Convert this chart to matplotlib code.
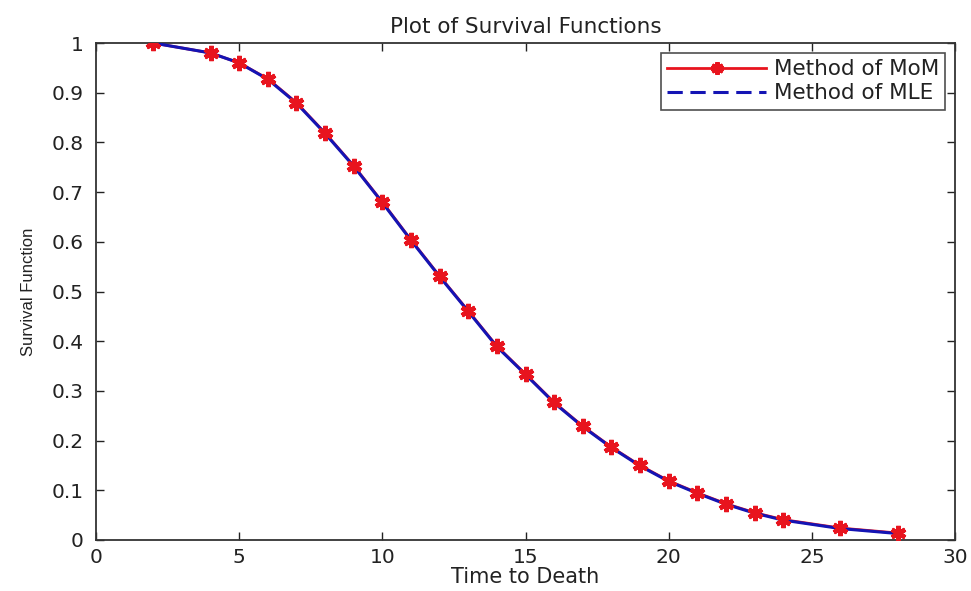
import matplotlib
matplotlib.use("Agg")
import matplotlib.pyplot as plt
from matplotlib.lines import Line2D

time_to_death = [2, 4, 5, 6, 7, 8, 9, 10, 11, 12, 13, 14, 15, 16, 17, 18, 19, 20, 21, 22, 23, 24, 26, 28]
survival_mom = [1.0, 0.98, 0.96, 0.928, 0.88, 0.819, 0.753, 0.68, 0.604, 0.531, 0.461, 0.39,
                0.334, 0.277, 0.229, 0.187, 0.150, 0.119, 0.095, 0.073, 0.055, 0.041, 0.024, 0.014]
survival_mle = [1.0, 0.98, 0.96, 0.927, 0.879, 0.818, 0.752, 0.679, 0.603, 0.530, 0.460, 0.389,
                0.333, 0.276, 0.228, 0.186, 0.149, 0.118, 0.094, 0.072, 0.054, 0.040, 0.023, 0.013]
x_ticks = [0, 5, 10, 15, 20, 25, 30]
y_ticks = [0, 0.1, 0.2, 0.3, 0.4, 0.5, 0.6, 0.7, 0.8, 0.9, 1]
y_ticklabels = ["0", "0.1", "0.2", "0.3", "0.4", "0.5", "0.6", "0.7", "0.8", "0.9", "1"]

plt.rcParams['font.family'] = ['DejaVu Sans']

RED = '#e8141e'
BLUE = '#1414b4'
INK = '#222222'

fig = plt.figure(figsize=(9.71, 5.91), dpi=100)
ax = fig.add_axes([0.0989, 0.0863, 0.8846, 0.8409])

ax.plot(time_to_death, survival_mom, color=RED, linewidth=2, zorder=2)
ax.plot(time_to_death, survival_mle, color=BLUE, linewidth=2.2, zorder=3)
ax.plot(time_to_death, survival_mom, linestyle='none', marker=(6, 2, 0), markersize=11,
        markeredgewidth=3.2, color=RED, markeredgecolor=RED, zorder=4)

ax.set_xlim(0, 30)
ax.set_ylim(0, 1)
ax.set_xticks(x_ticks)
ax.set_xticklabels([str(t) for t in x_ticks])
ax.set_yticks(y_ticks)
ax.set_yticklabels(y_ticklabels)
ax.tick_params(direction='in', top=True, right=True, length=6, labelsize=14.5,
               width=1, colors=INK, labelcolor=INK)
ax.tick_params(axis='y', pad=9)
ax.tick_params(axis='x', pad=6)
for s in ax.spines.values():
    s.set_linewidth(1.3)
    s.set_color('#333333')

ax.set_title("Plot of Survival Functions", fontsize=15.5, pad=7, color=INK)
ax.set_xlabel("Time to Death", fontsize=15, labelpad=0, color=INK)
ax.set_ylabel("Survival Function", fontsize=12, labelpad=11, color=INK,
              family=['Liberation Sans Narrow', 'Liberation Sans', 'DejaVu Sans'])

handles = [
    Line2D([], [], color=RED, linewidth=2, marker=(6, 2, 0), markersize=9,
           markeredgewidth=3, markeredgecolor=RED),
    Line2D([], [], color=BLUE, linewidth=2.2, linestyle=(0, (5, 2.5))),
]
leg = ax.legend(handles, ["Method of MoM", "Method of MLE"], loc='upper right',
                fontsize=15.5, frameon=True, fancybox=False, edgecolor=INK,
                borderaxespad=0.45, handlelength=4.6, handletextpad=0.35,
                labelspacing=0.18, borderpad=0.3, markerfirst=True)
leg.get_frame().set_linewidth(1.2)
for t in leg.get_texts():
    t.set_color(INK)

fig.savefig("out.png", dpi=100)
